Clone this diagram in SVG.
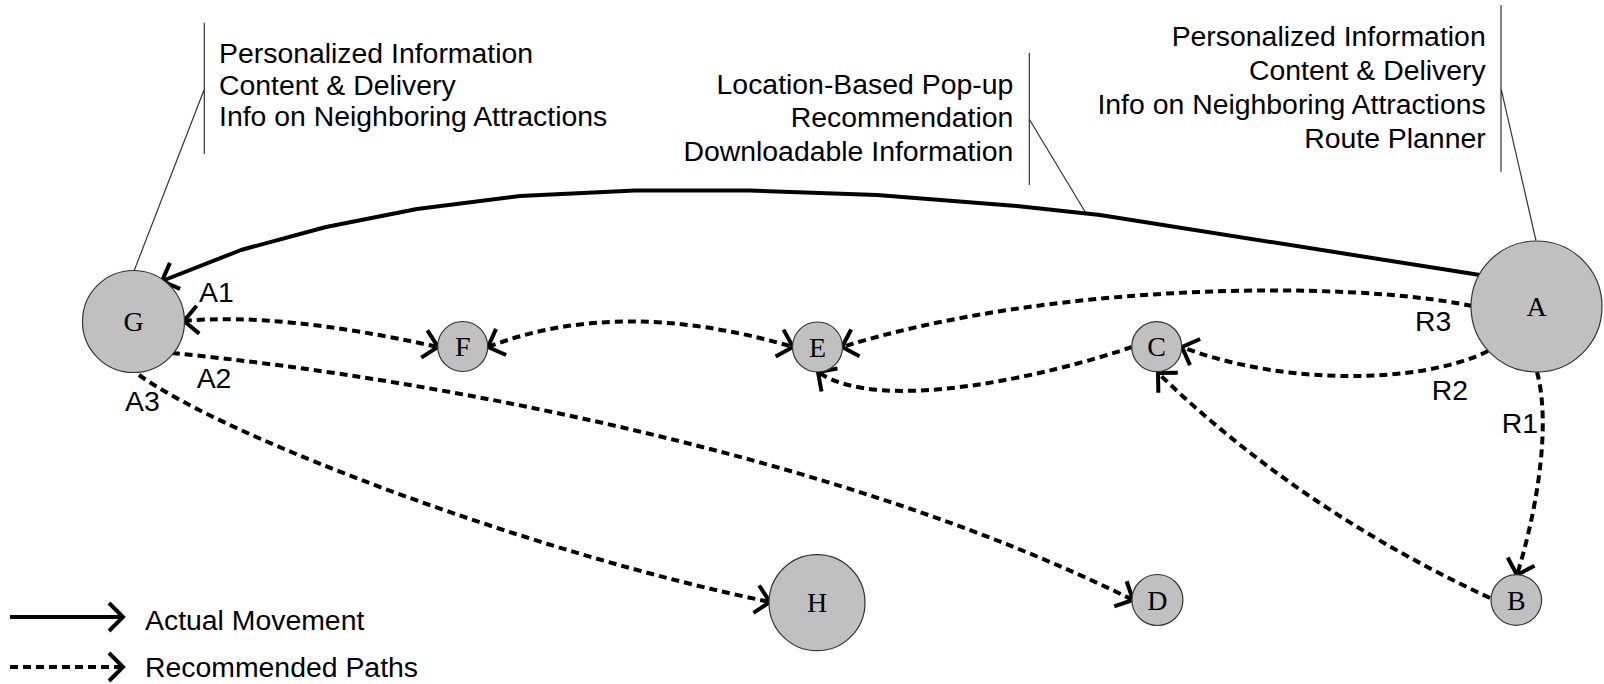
<svg xmlns="http://www.w3.org/2000/svg" width="1604" height="684" viewBox="0 0 1604 684">
  <style>
    .node circle { fill: #c0c0c0; stroke: #333; stroke-width: 1.2; }
    .node text { font-family: "Liberation Serif", "Times New Roman", serif; font-size: 28px; text-anchor: middle; fill: #000; }
    .label { font-family: "Liberation Sans", Arial, sans-serif; font-size: 28.4px; fill: #000; }
    .end { text-anchor: end; }
    .leader { fill: none; stroke: #333; stroke-width: 1.2; }
    .solid { fill: none; stroke: #000; stroke-width: 4; stroke-linejoin: round; marker-end: url(#chev); }
    .dash { fill: none; stroke: #000; stroke-width: 4; stroke-dasharray: 8 5; marker-end: url(#chev); }
    .both { marker-start: url(#chev); }
  </style>
  <defs>
    <!-- open chevron arrowhead -->
    <marker id="chev" viewBox="-20 -20 24 40" markerWidth="24" markerHeight="40" refX="0" refY="0" orient="auto-start-reverse" markerUnits="userSpaceOnUse">
      <path d="M-14,-14 L0,0 L-14,14" fill="none" stroke="#000" stroke-width="4"/>
    </marker>
  </defs>

  <rect width="1604" height="684" fill="#fff"/>

  <!-- callout leaders -->
  <g id="leaders">
    <path class="leader" d="M204.3,22.7 V154 M204.3,89.3 L134,271"/>
    <path class="leader" d="M1029.3,53 V185 M1029.3,119.3 L1086,213.3"/>
    <path class="leader" d="M1501,5 V171.7 M1501,88.3 L1536,240.7"/>
  </g>

  <!-- callout texts -->
  <g id="callout-g">
    <text class="label" x="219" y="63.3">Personalized Information</text>
    <text class="label" x="219" y="94.6">Content &amp; Delivery</text>
    <text class="label" x="219" y="126">Info on Neighboring Attractions</text>
  </g>
  <g id="callout-route">
    <text class="label end" x="1013.3" y="94">Location-Based Pop-up</text>
    <text class="label end" x="1013.3" y="127.3">Recommendation</text>
    <text class="label end" x="1013.3" y="160.7">Downloadable Information</text>
  </g>
  <g id="callout-a">
    <text class="label end" x="1485.7" y="45.7">Personalized Information</text>
    <text class="label end" x="1485.7" y="79.7">Content &amp; Delivery</text>
    <text class="label end" x="1485.7" y="113.7">Info on Neighboring Attractions</text>
    <text class="label end" x="1485.7" y="147.7">Route Planner</text>
  </g>

  <!-- connectors -->
  <g id="connectors">
    <path class="solid" d="M1480,275 L1100,215 L1016.7,206 L877,195 L750,190.5 L635,190.5 L520,196 L417,209 L326,227 L241,250 L162,281"/>
    <path class="dash both" d="M184,321 Q280,312 438,347"/>
    <path class="dash both" d="M488,347 Q620,296 793,347"/>
    <path class="dash" d="M1472,306 C1350,280 1050,282 842,347"/>
    <path class="dash" d="M1132,347 C1050,375 880,415 818,372"/>
    <path class="dash" d="M1488,351 C1420,385 1280,385 1182,347"/>
    <path class="dash" d="M1490,598 Q1300,510 1158,373"/>
    <path class="dash" d="M1537,372 C1550,420 1540,500 1517,575"/>
    <path class="dash" d="M172,353 C450,380 850,460 1133,600"/>
    <path class="dash" d="M139,375 C230,440 540,555 770,602"/>
  </g>

  <!-- path labels -->
  <g id="path-labels">
    <text class="label" x="199" y="301.7">A1</text>
    <text class="label" x="196.7" y="388.3">A2</text>
    <text class="label" x="125" y="411">A3</text>
    <text class="label" x="1415" y="330.5">R3</text>
    <text class="label" x="1431.7" y="400">R2</text>
    <text class="label" x="1501.7" y="433.3">R1</text>
  </g>

  <!-- nodes -->
  <g id="node-G" class="node"><circle cx="133.5" cy="321.5" r="51"/><text x="133.5" y="330.5">G</text></g>
  <g id="node-F" class="node"><circle cx="462.7" cy="346.5" r="25"/><text x="462.7" y="356">F</text></g>
  <g id="node-E" class="node"><circle cx="817.5" cy="347" r="25"/><text x="817.5" y="356.5">E</text></g>
  <g id="node-C" class="node"><circle cx="1156.7" cy="346.7" r="25"/><text x="1156.7" y="356.2">C</text></g>
  <g id="node-A" class="node"><circle cx="1536.5" cy="306.5" r="65.5"/><text x="1536.5" y="316">A</text></g>
  <g id="node-B" class="node"><circle cx="1516.3" cy="600" r="25.3"/><text x="1516.3" y="609.5">B</text></g>
  <g id="node-H" class="node"><circle cx="817" cy="602.7" r="48"/><text x="817" y="612.2">H</text></g>
  <g id="node-D" class="node"><circle cx="1157.4" cy="600" r="25.5"/><text x="1157.4" y="609.5">D</text></g>

  <!-- legend -->
  <g id="legend">
    <path class="solid" d="M10,617 H123"/>
    <text class="label" x="145" y="630">Actual Movement</text>
    <path class="dash" d="M10,667 H123"/>
    <text class="label" x="145" y="677">Recommended Paths</text>
  </g>
</svg>
